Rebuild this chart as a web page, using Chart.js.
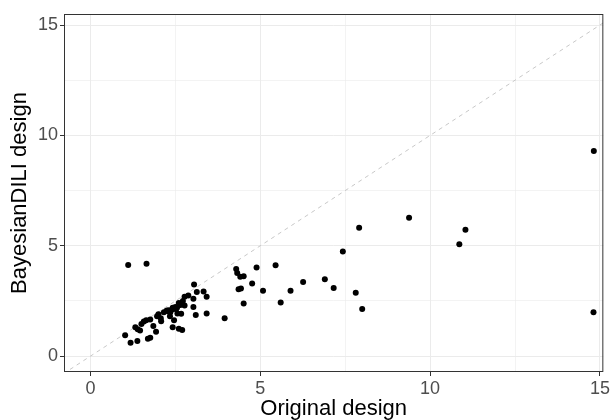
<!DOCTYPE html>
<html>
<head>
<meta charset="utf-8">
<script src="https://cdn.jsdelivr.net/npm/chart.js@4.4.1/dist/chart.umd.min.js"></script>
<style>
  html, body { margin: 0; padding: 0; background: #fff; }
  #wrap { width: 612px; height: 420px; }
</style>
</head>
<body>
<div id="wrap"><canvas id="grafico" width="612" height="420"></canvas></div>
<script>
// valores
const original = [
  1.11, 1.65, 1.02, 1.18, 1.38, 1.69, 1.76, 1.32, 1.39, 1.46,
  1.57, 1.64, 1.76, 1.85, 1.93, 1.96, 2.07, 2.08, 2.16, 2.24,
  2.29, 2.35, 2.34, 2.42, 2.50, 2.46, 2.42, 2.60, 2.70, 2.60,
  2.65, 2.56, 2.67, 2.77, 2.77, 2.88, 3.03, 3.03, 3.05, 3.13,
  3.10, 3.33, 3.42, 3.42, 3.95, 4.29, 4.32, 4.41, 4.51, 4.36,
  4.43, 4.51, 4.76, 4.89, 5.08, 5.45, 2.30, 2.52, 2.55, 1.50,
  2.00, 2.72, 2.40, 5.89, 6.26, 5.60, 6.90, 7.16, 7.43, 7.91,
  9.38, 7.81, 8.00, 14.82, 11.04, 10.86, 14.81
];
const bayesian = [
  4.13, 4.18, 0.94, 0.60, 0.69, 0.79, 0.83, 1.31, 1.22, 1.16,
  1.57, 1.63, 1.66, 1.36, 1.10, 1.81, 1.72, 1.58, 1.99, 2.05,
  2.08, 1.99, 1.81, 2.19, 2.23, 1.63, 1.31, 1.24, 1.18, 2.41,
  2.32, 1.93, 1.92, 2.29, 2.69, 2.75, 2.60, 2.23, 3.24, 2.90,
  1.86, 2.93, 2.69, 1.93, 1.72, 3.95, 3.77, 3.59, 3.62, 3.03,
  3.06, 2.38, 3.29, 4.01, 2.96, 4.12, 2.02, 2.12, 2.20, 1.45,
  1.90, 2.50, 2.11, 2.96, 3.36, 2.43, 3.48, 3.09, 4.74, 5.82,
  6.27, 2.87, 2.13, 9.29, 5.73, 5.07, 1.99
];
const xTicks = [0, 2.5, 5, 7.5, 10, 12.5, 15];
const yTicks = [0, 2.5, 5, 7.5, 10, 12.5, 15];
const diagonal = [-1, 16];

const puntos = original.map((x, i) => ({ x: x, y: bayesian[i] }));
const linea = diagonal.map(v => ({ x: v, y: v }));

const fuente = 'Liberation Sans, Arial, Helvetica, sans-serif';
const esMayor = v => v % 5 === 0;

// borde del panel (theme_bw)
const bordePanel = {
  id: 'bordePanel',
  afterDraw(chart) {
    const a = chart.chartArea;
    const ctx = chart.ctx;
    ctx.save();
    ctx.strokeStyle = '#333333';
    ctx.lineWidth = 1;
    ctx.strokeRect(a.left + 0.5, a.top + 0.5, a.right - a.left - 1, a.bottom - a.top - 1);
    ctx.restore();
  }
};

function ejeComun(ticks) {
  return {
    type: 'linear',
    afterBuildTicks: s => { s.ticks = ticks.map(v => ({ value: v })); },
    grid: {
      color: '#EBEBEB',
      lineWidth: c => (c.tick && esMayor(c.tick.value)) ? 1 : 0.6,
      tickLength: 4,
      tickColor: c => (c.tick && esMayor(c.tick.value)) ? '#333333' : 'rgba(0,0,0,0)',
      drawOnChartArea: true
    },
    border: { display: false },
    ticks: {
      autoSkip: false,
      padding: 2,
      color: '#4D4D4D',
      font: { family: fuente, size: 18 },
      callback: v => esMayor(v) ? String(v) : ''
    }
  };
}

const ejeX = ejeComun(xTicks);
ejeX.min = -0.78;
ejeX.max = 15.1;
ejeX.afterFit = s => { s.height = 48; };
ejeX.title = { display: true, text: 'Original design', color: '#000', font: { family: fuente, size: 22, lineHeight: 1 }, padding: { top: 0, bottom: 0 } };

const ejeY = ejeComun(yTicks);
ejeY.min = -0.72;
ejeY.max = 15.5;
ejeY.afterFit = s => { s.width = 64; };
ejeY.title = { display: true, text: 'BayesianDILI design', color: '#000', font: { family: fuente, size: 22, lineHeight: 1 }, padding: { top: 9, bottom: 0 } };

const ctx = document.getElementById('grafico').getContext('2d');
new Chart(ctx, {
  type: 'scatter',
  data: {
    datasets: [
      {
        label: 'designs',
        data: puntos,
        backgroundColor: '#000',
        borderColor: '#000',
        pointRadius: 3,
        pointBorderWidth: 0
      },
      {
        type: 'line',
        label: 'diagonal',
        data: linea,
        borderColor: '#C8C8C8',
        borderWidth: 1,
        borderDash: [4, 4],
        pointRadius: 0,
        fill: false
      }
    ]
  },
  options: {
    responsive: false,
    animation: false,
    devicePixelRatio: 1,
    layout: { padding: { left: 0, right: 8, top: 14, bottom: 0 } },
    plugins: { legend: { display: false }, tooltip: { enabled: false } },
    scales: { x: ejeX, y: ejeY }
  },
  plugins: [bordePanel]
});
</script>
</body>
</html>
